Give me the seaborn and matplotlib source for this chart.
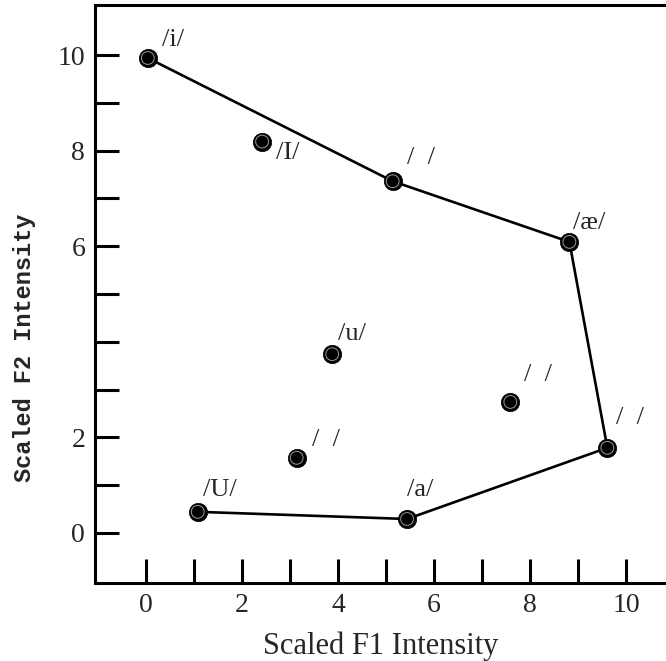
import numpy as np
import pandas as pd
import matplotlib
matplotlib.use("Agg")
import matplotlib.pyplot as plt
import seaborn as sns

vowels = ["/i/", "/I/", "/  /", "/\u00e6/", "/u/", "/  /", "/  /", "/  /", "/U/", "/a/"]
f1 = [0.04, 2.42, 5.14, 8.82, 3.88, 7.59, 9.61, 3.14, 1.08, 5.44]
f2 = [9.94, 8.19, 7.36, 6.09, 3.74, 2.74, 1.78, 1.57, 0.44, 0.29]
# outline of the vowel space (indices into the lists above)
hull_order = [0, 2, 3, 6, 9, 8]

x_ticks = list(range(0, 11))
x_ticklabels = ["0", "", "2", "", "4", "", "6", "", "8", "", "10"]
y_ticks = list(range(0, 11))
y_ticklabels = ["0", "", "2", "", "", "", "6", "", "8", "", "10"]

# label offsets in pixels (right, up)
label_off = [(25, 18), (26, -11), (28, 23), (20, 19), (20, 20),
             (28, 27), (23, 30), (29, 18), (22, 22), (13, 29)]

sns.set_style("ticks")
plt.rcParams["font.family"] = ["Liberation Serif", "DejaVu Serif"]

df = pd.DataFrame({"vowel": vowels, "F1": f1, "F2": f2})
hull = df.iloc[hull_order].reset_index(drop=True)

fig = plt.figure(figsize=(6.66, 6.61), dpi=100)
ax = fig.add_axes([0.1426, 0.118, 0.858, 0.8745])

sns.lineplot(data=hull, x="F1", y="F2", sort=False, color="black",
             linewidth=1.9, ax=ax, zorder=2)
sns.scatterplot(data=df, x="F1", y="F2", s=175, color="black",
                edgecolor="black", linewidth=0.5, ax=ax, zorder=3)
ax.scatter(df["F1"], df["F2"], s=85, facecolor="none",
           edgecolor="#9a9a9a", linewidth=0.7, zorder=4)

for i, row in df.iterrows():
    dx, dy = label_off[i]
    ax.annotate(row["vowel"], (row["F1"], row["F2"]),
                xytext=(dx * 0.72, dy * 0.72), textcoords="offset points",
                ha="center", va="center", fontsize=19)

ax.set_xlim(-1.06, 10.84)
ax.set_ylim(-1.05, 11.05)
ax.set_xticks(x_ticks)
ax.set_xticklabels(x_ticklabels)
ax.set_yticks(y_ticks)
ax.set_yticklabels(y_ticklabels)
ax.tick_params(direction="in", length=17, width=2.2, labelsize=20,
               color="black", pad=7)
for side in ["left", "bottom", "top"]:
    ax.spines[side].set_linewidth(2.2)
    ax.spines[side].set_color("black")
ax.spines["right"].set_visible(False)

ax.set_xlabel("Scaled F1 Intensity", fontsize=22, labelpad=10)
ax.set_ylabel("Scaled F2 Intensity", fontsize=17, fontweight="bold",
              family=["Liberation Mono", "DejaVu Sans Mono"])
ax.yaxis.set_label_coords(-0.104, 0.407)

fig.savefig("out.png", dpi=100)
